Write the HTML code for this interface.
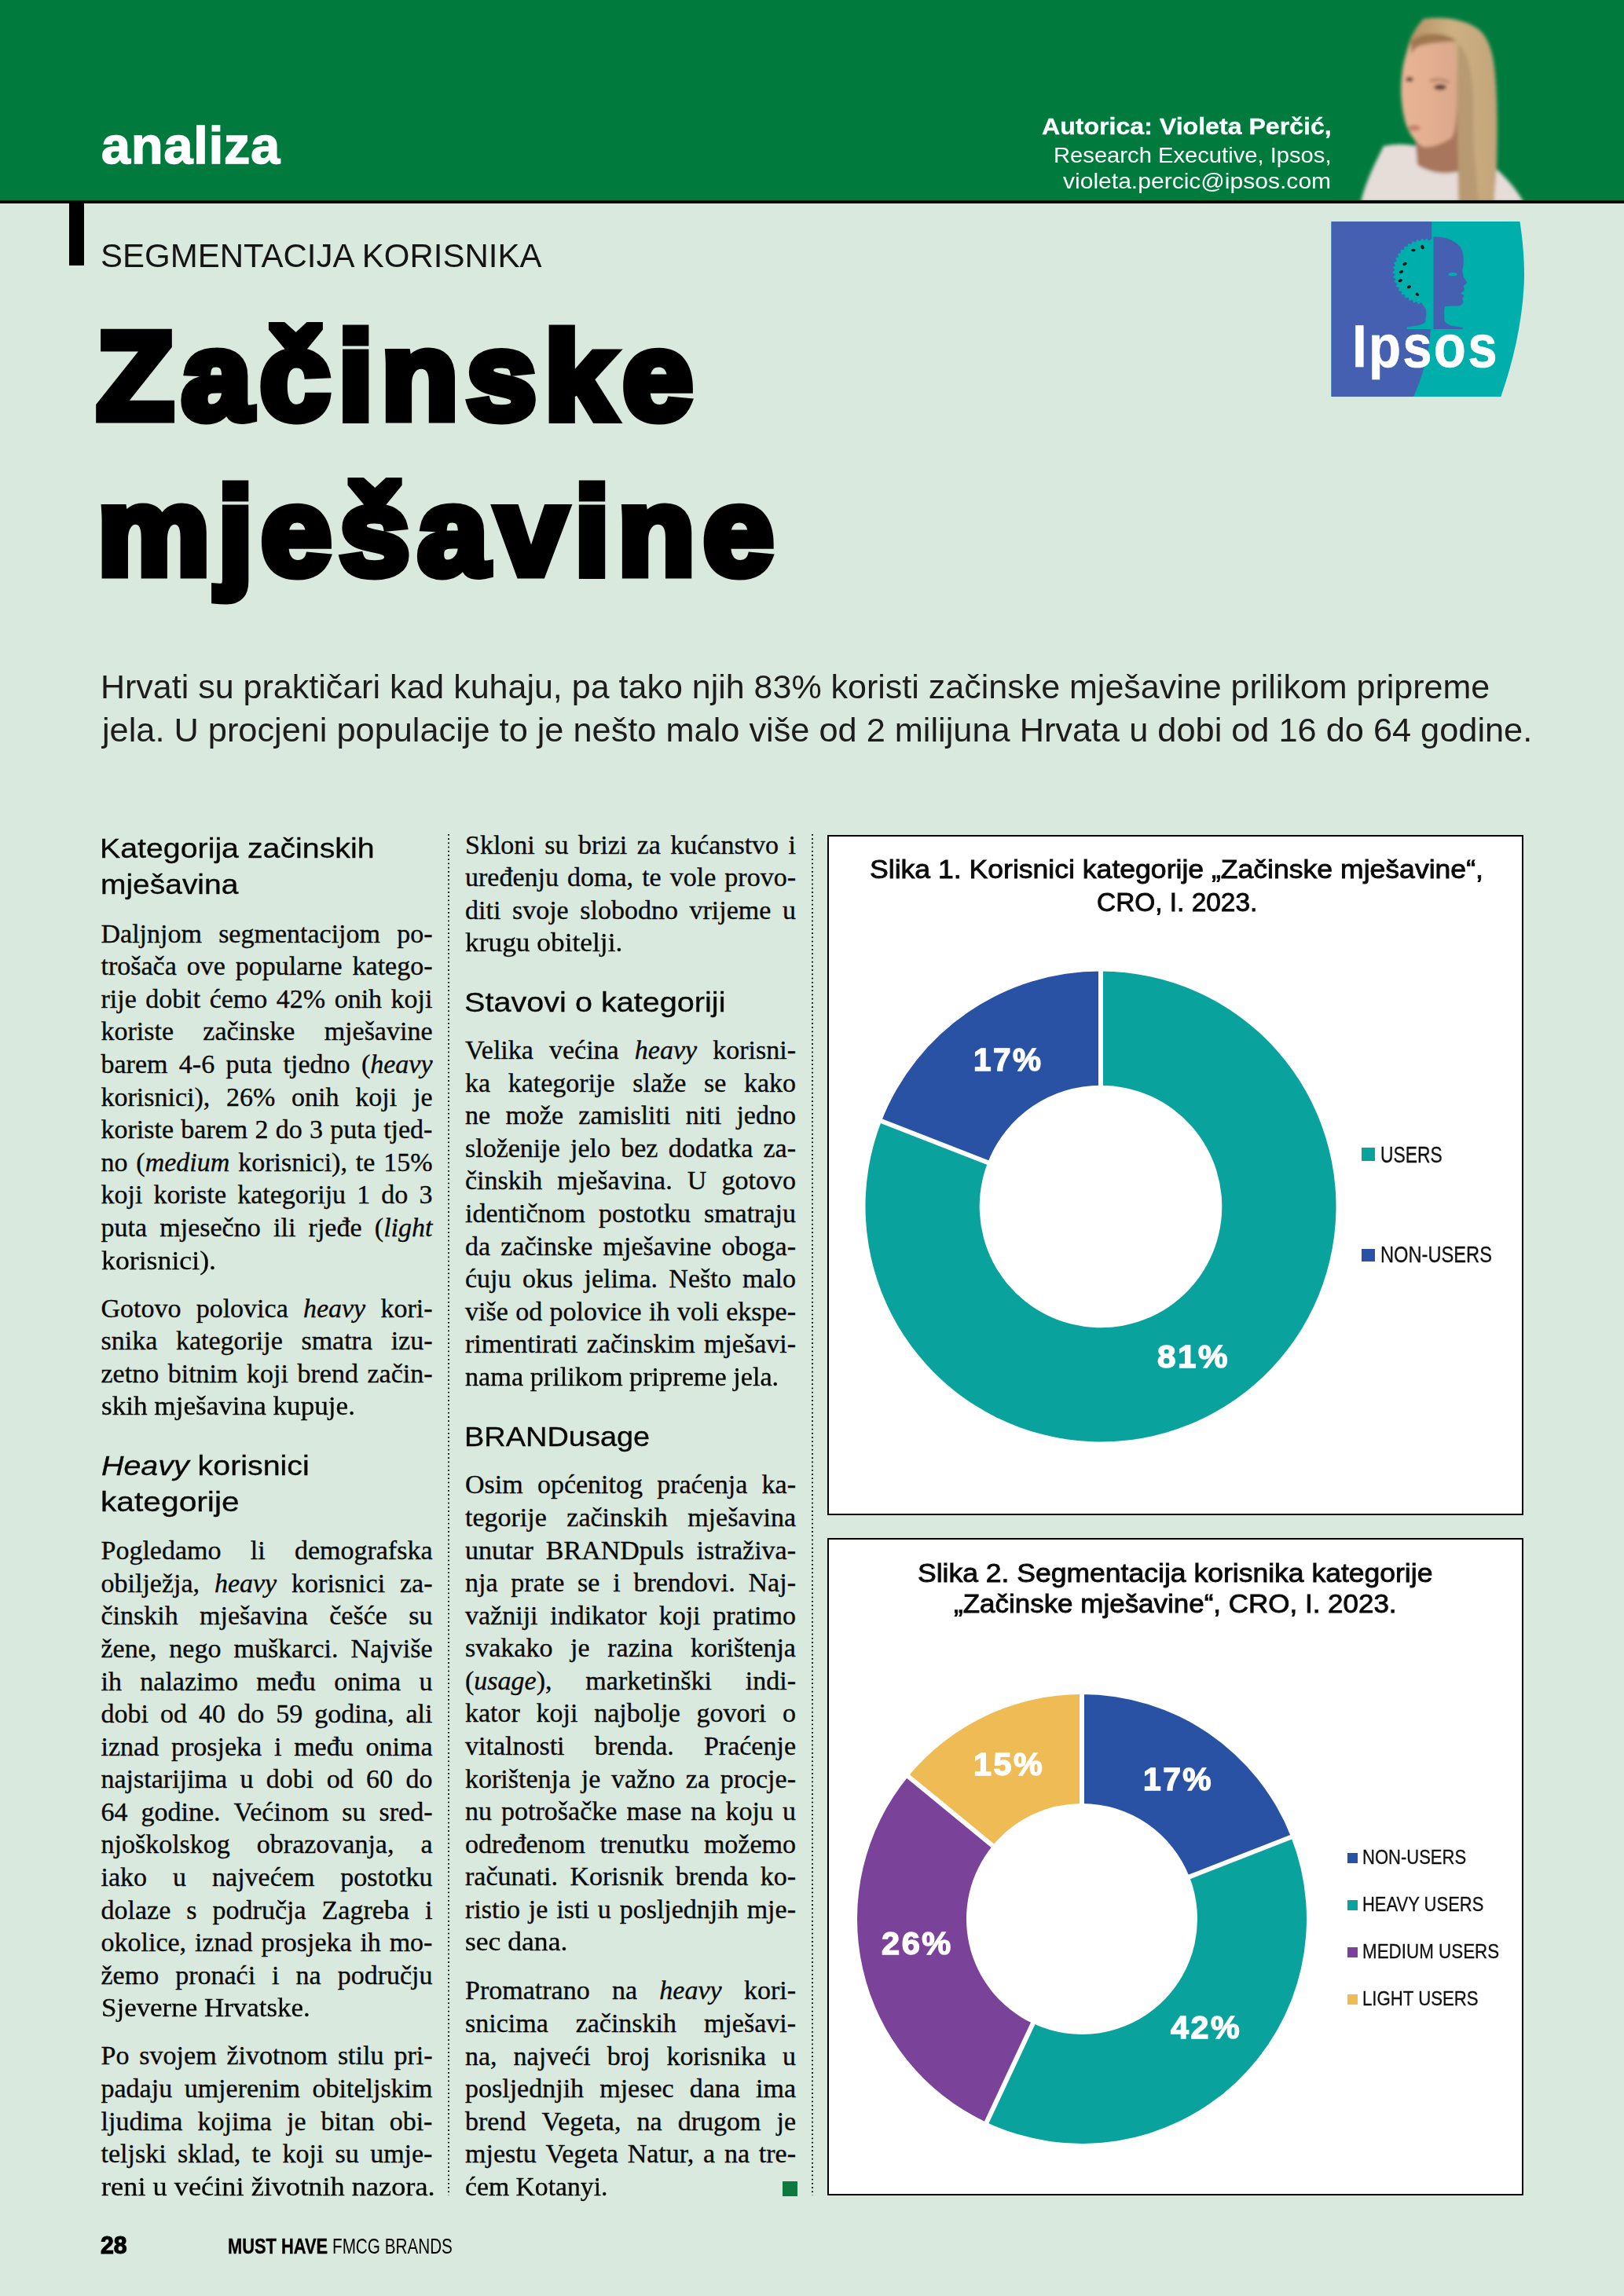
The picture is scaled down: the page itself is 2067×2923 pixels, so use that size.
<!DOCTYPE html>
<html><head><meta charset="utf-8"><title>Začinske mješavine</title>
<style>
html,body{margin:0;padding:0}
body{width:2067px;height:2923px;overflow:hidden;position:relative;background:#dae9de;font-family:"Liberation Sans",sans-serif;color:#000}
.abs{position:absolute}
.t{position:absolute;white-space:nowrap;transform-origin:0 0}
.bt{font-family:"Liberation Serif",serif;font-size:34.0px;line-height:34.0px;color:#0a0a0a;-webkit-text-stroke-width:0.35px}
.jl{display:flex;justify-content:space-between}
.dots{position:absolute;width:2px;background-image:radial-gradient(circle at 1px 1px,#111 0.95px,transparent 1.2px);background-size:2px 5.22px;background-repeat:repeat-y}
.box{position:absolute;background:#fff;border:2px solid #000;box-sizing:border-box}
</style></head><body>
<div class="abs" style="left:0;top:0;width:2067px;height:255px;background:#017b3d"></div>
<svg class="abs" style="left:1720px;top:10px" width="230" height="245" viewBox="0 0 230 245">
<defs><filter id="bl" x="-20%" y="-20%" width="140%" height="140%"><feGaussianBlur stdDeviation="2"/></filter>
<linearGradient id="hg" x1="0" y1="0" x2="1" y2="0"><stop offset="0" stop-color="#b48f62"/><stop offset="0.5" stop-color="#cdb083"/><stop offset="1" stop-color="#c3a57a"/></linearGradient>
<linearGradient id="fg" x1="0" y1="0" x2="1" y2="0"><stop offset="0" stop-color="#e9b595"/><stop offset="1" stop-color="#dca88c"/></linearGradient></defs>
<g filter="url(#bl)">
<path d="M12,247 C18,222 28,202 41,176 C60,172 75,174 88,177 L130,180 C150,190 168,196 177,198 C195,214 210,230 219,247 Z" fill="#e6dcd8"/>
<path d="M92,14 C120,10 150,16 165,30 C176,42 181,60 183,85 C186,120 186,160 185,200 C184,220 182,235 182,247 L136,247 C135,200 134,120 133,80 C120,60 100,50 80,56 C74,62 71,70 69,85 C67,60 72,35 92,14 Z" fill="url(#hg)"/>
<path d="M80,150 C95,165 118,160 138,110 L138,208 C118,213 100,210 84,200 Z" fill="#a8765c"/>
<path d="M79,41 C90,36 112,34 128,41 C134,60 136,90 134,125 C133,145 132,158 128,165 C118,172 104,178 92,177 C82,172 76,164 70,150 C64,130 62,110 64,88 C66,68 70,52 79,41 Z" fill="url(#fg)"/>
<path d="M76,42 C90,30 118,30 134,42 C120,44 100,44 88,48 C82,50 78,54 76,60 Z" fill="#a07850"/>
<ellipse cx="74" cy="91" rx="5" ry="3" fill="#5a3828"/>
<ellipse cx="113" cy="101" rx="8" ry="3.5" fill="#553526"/>
<path d="M100,93 C108,90 118,91 124,95" stroke="#8a5a40" stroke-width="2" fill="none"/>
<ellipse cx="80" cy="153" rx="8" ry="3.5" fill="#c77a6c"/>
<path d="M136,45 C150,60 155,90 155,120 C155,170 158,210 162,247 L137,247 C136,200 134,130 134,100 Z" fill="#b89a72"/>
</g>
</svg>
<div class="abs" style="left:0;top:255px;width:2067px;height:4px;background:#050505"></div>
<div class="abs" style="left:88px;top:258px;width:19px;height:80px;background:#000"></div>
<svg class="abs" style="left:1694px;top:281px" width="250" height="226" viewBox="0 0 250 226">
<path d="M0.5,1 L240.4,1 C245,30 247,60 245.5,85 C243,130 232,180 216.3,224 L0.5,224 Z" fill="#00afab"/>
<path d="M0.5,1 L128.2,1 C128.3,60 128.2,110 127.3,134 C125,170 116,200 105,224 L0.5,224 Z" fill="#4560b0"/>
<path d="M131.5,22.5 L130.6,26.7 L128.3,22.9 L124.9,25.7 L122.0,22.3 L119.1,25.5 L115.8,22.6 L113.3,26.3 L109.7,23.8 L107.7,27.8 L103.8,25.9 L102.5,30.1 L98.2,28.9 L97.6,33.2 L93.2,32.6 L93.2,37.0 L88.8,37.0 L89.4,41.3 L85.0,42.0 L86.3,46.2 L82.1,47.5 L83.9,51.5 L79.9,53.4 L82.3,57.1 L78.7,59.5 L81.6,62.8 L78.3,65.7 L81.7,68.6 L78.9,72.0 L82.6,74.3 L80.3,78.1 L84.4,79.8 L82.7,83.9 L86.9,85.0 L85.9,89.2 L90.2,89.8 L89.8,94.1 L94.2,94.0 L94.4,98.4 L98.7,97.6 L99.5,101.9 L103.7,100.5 L105.1,104.6 L109.1,102.7 L111.1,106.5 L114.7,104.0 L120.5,112.2 C121.5,115 121.5,120 120,129 C118,132 112,133.5 96.7,135.6 L96.7,138 L131.5,138 Z" fill="#00afab"/>
<path d="M130.5,20.5 C134,20.5 136,20.6 138.8,20.8 C144,21.5 148,22.5 152.3,24.2 C156,26 159.5,28 162.5,30.9 C165.5,34 167,37 167.9,41.1 C168.8,46 169,50 168.6,54.7 C168.4,58 168,60.5 167.2,62.8 L168.6,71.6 C170.5,74.5 172,76.5 173.3,79 L168.6,83.1 C169.5,85 170,86.5 169.9,88.5 L165.2,92.6 L169.2,95.3 L167.2,99.4 C168,101 168.6,102.5 168.6,104.1 C167,106 166,107.5 164.5,108.2 C157,108.6 150,108.5 145.5,108.9 C144.3,111 144.2,113 144.2,115.6 L144.2,125.8 C145,129.5 148,132 152.3,133.2 C158,134.5 163,135.3 167.9,136 L167.9,138 L130.5,138 Z" fill="#4560b0"/>
<ellipse cx="155" cy="68.2" rx="5.4" ry="2.1" fill="#00afab"/>
<g fill="#111">
<ellipse cx="116.5" cy="33.6" rx="2" ry="2.8" transform="rotate(-20 116.5 33.6)"/>
<ellipse cx="104.9" cy="37.5" rx="2.8" ry="1.8"/>
<ellipse cx="94" cy="55" rx="2.8" ry="1.8" transform="rotate(-25 94 55)"/>
<ellipse cx="89.4" cy="65.1" rx="2.8" ry="1.8" transform="rotate(-25 89.4 65.1)"/>
<ellipse cx="88.2" cy="76.3" rx="2.8" ry="1.8" transform="rotate(-20 88.2 76.3)"/>
<ellipse cx="99.4" cy="84.3" rx="2.8" ry="1.8" transform="rotate(-20 99.4 84.3)"/>
<ellipse cx="109.9" cy="93.7" rx="2.4" ry="1.8" transform="rotate(30 109.9 93.7)"/>
</g>
</svg>
<div class="box" style="left:1053px;top:1062.5px;width:886px;height:866px"></div>
<div class="box" style="left:1053px;top:1958.4px;width:886px;height:836.4px"></div>
<svg class="abs" width="2067" height="2923" viewBox="0 0 2067 2923" style="left:0;top:0"><path d="M1401.00,1236.50 A299.5,299.5 0 1 1 1121.96,1427.21 L1257.24,1479.95 A154.3,154.3 0 1 0 1401.00,1381.70 Z" fill="#0aa29d"/><path d="M1121.96,1427.21 A299.5,299.5 0 0 1 1401.00,1236.50 L1401.00,1381.70 A154.3,154.3 0 0 0 1257.24,1479.95 Z" fill="#2a52a4"/><line x1="1401.00" y1="1383.70" x2="1401.00" y2="1234.50" stroke="#fff" stroke-width="6"/><line x1="1259.10" y1="1480.68" x2="1120.10" y2="1426.48" stroke="#fff" stroke-width="6"/><path d="M1377.00,2157.00 A286,286 0 0 1 1643.28,2338.65 L1513.87,2389.36 A147,147 0 0 0 1377.00,2296.00 Z" fill="#2a52a4"/><path d="M1643.28,2338.65 A286,286 0 0 1 1255.68,2701.99 L1314.64,2576.12 A147,147 0 0 0 1513.87,2389.36 Z" fill="#0aa29d"/><path d="M1255.68,2701.99 A286,286 0 0 1 1156.00,2261.47 L1263.41,2349.69 A147,147 0 0 0 1314.64,2576.12 Z" fill="#7a4399"/><path d="M1156.00,2261.47 A286,286 0 0 1 1377.00,2157.00 L1377.00,2296.00 A147,147 0 0 0 1263.41,2349.69 Z" fill="#efbb54"/><line x1="1377.00" y1="2298.00" x2="1377.00" y2="2155.00" stroke="#fff" stroke-width="6"/><line x1="1512.00" y1="2390.09" x2="1645.14" y2="2337.92" stroke="#fff" stroke-width="6"/><line x1="1315.49" y1="2574.31" x2="1254.83" y2="2703.80" stroke="#fff" stroke-width="6"/><line x1="1264.95" y1="2350.96" x2="1154.45" y2="2260.20" stroke="#fff" stroke-width="6"/></svg>
<div class="abs" style="left:1733px;top:1461.2px;width:17.0px;height:16.8px;background:#0aa29d"></div><div class="abs" style="left:1733px;top:1589.6px;width:17.0px;height:16.7px;background:#2a52a4"></div><div class="abs" style="left:1714.6px;top:2359px;width:13.4px;height:13.0px;background:#2a52a4"></div><div class="abs" style="left:1714.6px;top:2418.8px;width:13.4px;height:13.0px;background:#0aa29d"></div><div class="abs" style="left:1714.6px;top:2479.2px;width:13.4px;height:13.0px;background:#7a4399"></div><div class="abs" style="left:1714.6px;top:2539.2px;width:13.4px;height:13.0px;background:#efbb54"></div>
<div class="dots" style="left:570px;top:1062.4px;height:1733.1px"></div><div class="dots" style="left:1033.2px;top:1062.4px;height:1733.1px"></div>
<div class="t bt jl" style="left:128.5px;top:1171.78px;width:422px"><span>Daljnjom</span><span>segmentacijom</span><span>po-</span></div>
<div class="t bt jl" style="left:128.5px;top:1213.35px;width:422px"><span>trošača</span><span>ove</span><span>popularne</span><span>katego-</span></div>
<div class="t bt jl" style="left:128.5px;top:1254.92px;width:422px"><span>rije</span><span>dobit</span><span>ćemo</span><span>42%</span><span>onih</span><span>koji</span></div>
<div class="t bt jl" style="left:128.5px;top:1296.49px;width:422px"><span>koriste</span><span>začinske</span><span>mješavine</span></div>
<div class="t bt jl" style="left:128.5px;top:1338.06px;width:422px"><span>barem</span><span>4-6</span><span>puta</span><span>tjedno</span><span>(<i>heavy</i></span></div>
<div class="t bt jl" style="left:128.5px;top:1379.63px;width:422px"><span>korisnici),</span><span>26%</span><span>onih</span><span>koji</span><span>je</span></div>
<div class="t bt jl" style="left:128.5px;top:1421.20px;width:422px"><span>koriste</span><span>barem</span><span>2</span><span>do</span><span>3</span><span>puta</span><span>tjed-</span></div>
<div class="t bt jl" style="left:128.5px;top:1462.77px;width:422px"><span>no</span><span>(<i>medium</i></span><span>korisnici),</span><span>te</span><span>15%</span></div>
<div class="t bt jl" style="left:128.5px;top:1504.34px;width:422px"><span>koji</span><span>koriste</span><span>kategoriju</span><span>1</span><span>do</span><span>3</span></div>
<div class="t bt jl" style="left:128.5px;top:1545.91px;width:422px"><span>puta</span><span>mjesečno</span><span>ili</span><span>rjeđe</span><span>(<i>light</i></span></div>
<div class="t bt jl" style="left:128.5px;top:1648.58px;width:422px"><span>Gotovo</span><span>polovica</span><span><i>heavy</i></span><span>kori-</span></div>
<div class="t bt jl" style="left:128.5px;top:1690.15px;width:422px"><span>snika</span><span>kategorije</span><span>smatra</span><span>izu-</span></div>
<div class="t bt jl" style="left:128.5px;top:1731.72px;width:422px"><span>zetno</span><span>bitnim</span><span>koji</span><span>brend</span><span>začin-</span></div>
<div class="t bt jl" style="left:128.5px;top:1957.28px;width:422px"><span>Pogledamo</span><span>li</span><span>demografska</span></div>
<div class="t bt jl" style="left:128.5px;top:1998.85px;width:422px"><span>obilježja,</span><span><i>heavy</i></span><span>korisnici</span><span>za-</span></div>
<div class="t bt jl" style="left:128.5px;top:2040.42px;width:422px"><span>činskih</span><span>mješavina</span><span>češće</span><span>su</span></div>
<div class="t bt jl" style="left:128.5px;top:2081.99px;width:422px"><span>žene,</span><span>nego</span><span>muškarci.</span><span>Najviše</span></div>
<div class="t bt jl" style="left:128.5px;top:2123.56px;width:422px"><span>ih</span><span>nalazimo</span><span>među</span><span>onima</span><span>u</span></div>
<div class="t bt jl" style="left:128.5px;top:2165.13px;width:422px"><span>dobi</span><span>od</span><span>40</span><span>do</span><span>59</span><span>godina,</span><span>ali</span></div>
<div class="t bt jl" style="left:128.5px;top:2206.70px;width:422px"><span>iznad</span><span>prosjeka</span><span>i</span><span>među</span><span>onima</span></div>
<div class="t bt jl" style="left:128.5px;top:2248.27px;width:422px"><span>najstarijima</span><span>u</span><span>dobi</span><span>od</span><span>60</span><span>do</span></div>
<div class="t bt jl" style="left:128.5px;top:2289.84px;width:422px"><span>64</span><span>godine.</span><span>Većinom</span><span>su</span><span>sred-</span></div>
<div class="t bt jl" style="left:128.5px;top:2331.41px;width:422px"><span>njoškolskog</span><span>obrazovanja,</span><span>a</span></div>
<div class="t bt jl" style="left:128.5px;top:2372.98px;width:422px"><span>iako</span><span>u</span><span>najvećem</span><span>postotku</span></div>
<div class="t bt jl" style="left:128.5px;top:2414.55px;width:422px"><span>dolaze</span><span>s</span><span>područja</span><span>Zagreba</span><span>i</span></div>
<div class="t bt jl" style="left:128.5px;top:2456.12px;width:422px"><span>okolice,</span><span>iznad</span><span>prosjeka</span><span>ih</span><span>mo-</span></div>
<div class="t bt jl" style="left:128.5px;top:2497.69px;width:422px"><span>žemo</span><span>pronaći</span><span>i</span><span>na</span><span>području</span></div>
<div class="t bt jl" style="left:128.5px;top:2600.48px;width:422px"><span>Po</span><span>svojem</span><span>životnom</span><span>stilu</span><span>pri-</span></div>
<div class="t bt jl" style="left:128.5px;top:2642.05px;width:422px"><span>padaju</span><span>umjerenim</span><span>obiteljskim</span></div>
<div class="t bt jl" style="left:128.5px;top:2683.62px;width:422px"><span>ljudima</span><span>kojima</span><span>je</span><span>bitan</span><span>obi-</span></div>
<div class="t bt jl" style="left:128.5px;top:2725.19px;width:422px"><span>teljski</span><span>sklad,</span><span>te</span><span>koji</span><span>su</span><span>umje-</span></div>
<div class="t bt jl" style="left:592px;top:1058.58px;width:421px"><span>Skloni</span><span>su</span><span>brizi</span><span>za</span><span>kućanstvo</span><span>i</span></div>
<div class="t bt jl" style="left:592px;top:1100.15px;width:421px"><span>uređenju</span><span>doma,</span><span>te</span><span>vole</span><span>provo-</span></div>
<div class="t bt jl" style="left:592px;top:1141.72px;width:421px"><span>diti</span><span>svoje</span><span>slobodno</span><span>vrijeme</span><span>u</span></div>
<div class="t bt jl" style="left:592px;top:1320.08px;width:421px"><span>Velika</span><span>većina</span><span><i>heavy</i></span><span>korisni-</span></div>
<div class="t bt jl" style="left:592px;top:1361.65px;width:421px"><span>ka</span><span>kategorije</span><span>slaže</span><span>se</span><span>kako</span></div>
<div class="t bt jl" style="left:592px;top:1403.22px;width:421px"><span>ne</span><span>može</span><span>zamisliti</span><span>niti</span><span>jedno</span></div>
<div class="t bt jl" style="left:592px;top:1444.79px;width:421px"><span>složenije</span><span>jelo</span><span>bez</span><span>dodatka</span><span>za-</span></div>
<div class="t bt jl" style="left:592px;top:1486.36px;width:421px"><span>činskih</span><span>mješavina.</span><span>U</span><span>gotovo</span></div>
<div class="t bt jl" style="left:592px;top:1527.93px;width:421px"><span>identičnom</span><span>postotku</span><span>smatraju</span></div>
<div class="t bt jl" style="left:592px;top:1569.50px;width:421px"><span>da</span><span>začinske</span><span>mješavine</span><span>oboga-</span></div>
<div class="t bt jl" style="left:592px;top:1611.07px;width:421px"><span>ćuju</span><span>okus</span><span>jelima.</span><span>Nešto</span><span>malo</span></div>
<div class="t bt jl" style="left:592px;top:1652.64px;width:421px"><span>više</span><span>od</span><span>polovice</span><span>ih</span><span>voli</span><span>ekspe-</span></div>
<div class="t bt jl" style="left:592px;top:1694.21px;width:421px"><span>rimentirati</span><span>začinskim</span><span>mješavi-</span></div>
<div class="t bt jl" style="left:592px;top:1873.38px;width:421px"><span>Osim</span><span>općenitog</span><span>praćenja</span><span>ka-</span></div>
<div class="t bt jl" style="left:592px;top:1914.95px;width:421px"><span>tegorije</span><span>začinskih</span><span>mješavina</span></div>
<div class="t bt jl" style="left:592px;top:1956.52px;width:421px"><span>unutar</span><span>BRANDpuls</span><span>istraživa-</span></div>
<div class="t bt jl" style="left:592px;top:1998.09px;width:421px"><span>nja</span><span>prate</span><span>se</span><span>i</span><span>brendovi.</span><span>Naj-</span></div>
<div class="t bt jl" style="left:592px;top:2039.66px;width:421px"><span>važniji</span><span>indikator</span><span>koji</span><span>pratimo</span></div>
<div class="t bt jl" style="left:592px;top:2081.23px;width:421px"><span>svakako</span><span>je</span><span>razina</span><span>korištenja</span></div>
<div class="t bt jl" style="left:592px;top:2122.80px;width:421px"><span>(<i>usage</i>),</span><span>marketinški</span><span>indi-</span></div>
<div class="t bt jl" style="left:592px;top:2164.37px;width:421px"><span>kator</span><span>koji</span><span>najbolje</span><span>govori</span><span>o</span></div>
<div class="t bt jl" style="left:592px;top:2205.94px;width:421px"><span>vitalnosti</span><span>brenda.</span><span>Praćenje</span></div>
<div class="t bt jl" style="left:592px;top:2247.51px;width:421px"><span>korištenja</span><span>je</span><span>važno</span><span>za</span><span>procje-</span></div>
<div class="t bt jl" style="left:592px;top:2289.08px;width:421px"><span>nu</span><span>potrošačke</span><span>mase</span><span>na</span><span>koju</span><span>u</span></div>
<div class="t bt jl" style="left:592px;top:2330.65px;width:421px"><span>određenom</span><span>trenutku</span><span>možemo</span></div>
<div class="t bt jl" style="left:592px;top:2372.22px;width:421px"><span>računati.</span><span>Korisnik</span><span>brenda</span><span>ko-</span></div>
<div class="t bt jl" style="left:592px;top:2413.79px;width:421px"><span>ristio</span><span>je</span><span>isti</span><span>u</span><span>posljednjih</span><span>mje-</span></div>
<div class="t bt jl" style="left:592px;top:2517.38px;width:421px"><span>Promatrano</span><span>na</span><span><i>heavy</i></span><span>kori-</span></div>
<div class="t bt jl" style="left:592px;top:2558.95px;width:421px"><span>snicima</span><span>začinskih</span><span>mješavi-</span></div>
<div class="t bt jl" style="left:592px;top:2600.52px;width:421px"><span>na,</span><span>najveći</span><span>broj</span><span>korisnika</span><span>u</span></div>
<div class="t bt jl" style="left:592px;top:2642.09px;width:421px"><span>posljednjih</span><span>mjesec</span><span>dana</span><span>ima</span></div>
<div class="t bt jl" style="left:592px;top:2683.66px;width:421px"><span>brend</span><span>Vegeta,</span><span>na</span><span>drugom</span><span>je</span></div>
<div class="t bt jl" style="left:592px;top:2725.23px;width:421px"><span>mjestu</span><span>Vegeta</span><span>Natur,</span><span>a</span><span>na</span><span>tre-</span></div>
<div class="t bt" style="left:128.5px;top:1587.5px;transform:scaleX(1.0518)">korisnici).</div>
<div class="t bt" style="left:128.5px;top:1773.3px;transform:scaleX(1.0332)">skih mješavina kupuje.</div>
<div class="t bt" style="left:128.5px;top:2539.3px;transform:scaleX(1.0276)">Sjeverne Hrvatske.</div>
<div class="t bt" style="left:128.5px;top:2766.8px;transform:scaleX(1.0684)">reni u većini životnih nazora.</div>
<div class="t bt" style="left:592px;top:1183.3px;transform:scaleX(1.0398)">krugu obitelji.</div>
<div class="t bt" style="left:592px;top:1735.8px;transform:scaleX(1.0066)">nama prilikom pripreme jela.</div>
<div class="t bt" style="left:592px;top:2455.4px;transform:scaleX(1.0459)">sec dana.</div>
<div class="t bt" style="left:592px;top:2766.8px;transform:scaleX(0.9906)">ćem Kotanyi.</div>
<div class="t" style="left:129.01px;top:151.25px;font-family:'Liberation Sans',sans-serif;font-size:67px;line-height:67px;font-weight:bold;-webkit-text-stroke-width:1.6px;letter-spacing:1px;color:#fff;transform:scaleX(0.9900);">analiza</div>
<div class="t" style="left:1325.93px;top:145.90px;font-family:'Liberation Sans',sans-serif;font-size:30px;line-height:30px;font-weight:bold;-webkit-text-stroke-width:0.3px;color:#fff;transform:scaleX(1.0702);">Autorica: Violeta Perčić,</div>
<div class="t" style="left:1340.65px;top:182.78px;font-family:'Liberation Sans',sans-serif;font-size:28.5px;line-height:28.5px;color:#fff;transform:scaleX(1.0238);">Research Executive, Ipsos,</div>
<div class="t" style="left:1353.00px;top:216.47px;font-family:'Liberation Sans',sans-serif;font-size:28.5px;line-height:28.5px;color:#fff;transform:scaleX(1.0543);">violeta.percic@ipsos.com</div>
<div class="t" style="left:128.05px;top:304.15px;font-family:'Liberation Sans',sans-serif;font-size:43px;line-height:43px;color:#151515;transform:scaleX(0.9764);">SEGMENTACIJA KORISNIKA</div>
<div class="t" style="left:123.02px;top:400.00px;font-family:'Liberation Sans',sans-serif;font-size:157px;line-height:157px;font-weight:bold;-webkit-text-stroke-width:11px;letter-spacing:10px;color:#000;transform:scaleX(1.0228);">Začinske</div>
<div class="t" style="left:123.90px;top:598.05px;font-family:'Liberation Sans',sans-serif;font-size:157px;line-height:157px;font-weight:bold;-webkit-text-stroke-width:11px;letter-spacing:10px;color:#000;transform:scaleX(1.0251);">mješavine</div>
<div class="t" style="left:127.97px;top:854.17px;font-family:'Liberation Sans',sans-serif;font-size:42.5px;line-height:42.5px;color:#1c1c1c;transform:scaleX(1.0116);">Hrvati su praktičari kad kuhaju, pa tako njih 83% koristi začinske mješavine prilikom pripreme</div>
<div class="t" style="left:130.02px;top:908.88px;font-family:'Liberation Sans',sans-serif;font-size:42.5px;line-height:42.5px;color:#1c1c1c;transform:scaleX(1.0191);">jela. U procjeni populacije to je nešto malo više od 2 milijuna Hrvata u dobi od 16 do 64 godine.</div>
<div class="t" style="left:1106.65px;top:1088.90px;font-family:'Liberation Sans',sans-serif;font-size:34px;line-height:34px;-webkit-text-stroke-width:0.9px;color:#0c0c0c;transform:scaleX(1.0462);">Slika 1. Korisnici kategorije „Začinske mješavine“,</div>
<div class="t" style="left:1395.72px;top:1130.60px;font-family:'Liberation Sans',sans-serif;font-size:34px;line-height:34px;-webkit-text-stroke-width:0.9px;color:#0c0c0c;transform:scaleX(0.9828);">CRO, I. 2023.</div>
<div class="t" style="left:1168.36px;top:1984.70px;font-family:'Liberation Sans',sans-serif;font-size:34px;line-height:34px;-webkit-text-stroke-width:0.9px;color:#0c0c0c;transform:scaleX(1.0446);">Slika 2. Segmentacija korisnika kategorije</div>
<div class="t" style="left:1214.47px;top:2024.40px;font-family:'Liberation Sans',sans-serif;font-size:34px;line-height:34px;-webkit-text-stroke-width:0.9px;color:#0c0c0c;transform:scaleX(1.0285);">„Začinske mješavine“, CRO, I. 2023.</div>
<div class="t" style="left:1239.02px;top:1329.15px;font-family:'Liberation Sans',sans-serif;font-size:41px;line-height:41px;font-weight:bold;-webkit-text-stroke-width:1.4px;letter-spacing:2.5px;color:#fff;transform:scaleX(0.9882);">17%</div>
<div class="t" style="left:1473.47px;top:1706.85px;font-family:'Liberation Sans',sans-serif;font-size:41px;line-height:41px;font-weight:bold;-webkit-text-stroke-width:1.4px;letter-spacing:2.5px;color:#fff;transform:scaleX(1.0291);">81%</div>
<div class="t" style="left:1454.71px;top:2245.15px;font-family:'Liberation Sans',sans-serif;font-size:41px;line-height:41px;font-weight:bold;-webkit-text-stroke-width:1.4px;letter-spacing:2.5px;color:#fff;transform:scaleX(0.9953);">17%</div>
<div class="t" style="left:1238.98px;top:2225.55px;font-family:'Liberation Sans',sans-serif;font-size:41px;line-height:41px;font-weight:bold;-webkit-text-stroke-width:1.4px;letter-spacing:2.5px;color:#fff;transform:scaleX(1.0082);">15%</div>
<div class="t" style="left:1121.79px;top:2453.75px;font-family:'Liberation Sans',sans-serif;font-size:41px;line-height:41px;font-weight:bold;-webkit-text-stroke-width:1.4px;letter-spacing:2.5px;color:#fff;transform:scaleX(1.0140);">26%</div>
<div class="t" style="left:1490.40px;top:2561.15px;font-family:'Liberation Sans',sans-serif;font-size:41px;line-height:41px;font-weight:bold;-webkit-text-stroke-width:1.4px;letter-spacing:2.5px;color:#fff;transform:scaleX(1.0069);">42%</div>
<div class="t" style="left:1757.20px;top:1455.69px;font-family:'Liberation Sans',sans-serif;font-size:28.6px;line-height:28.6px;-webkit-text-stroke-width:0.3px;color:#111;transform:scaleX(0.7990);">USERS</div>
<div class="t" style="left:1757.15px;top:1583.19px;font-family:'Liberation Sans',sans-serif;font-size:28.6px;line-height:28.6px;-webkit-text-stroke-width:0.3px;color:#111;transform:scaleX(0.8272);">NON-USERS</div>
<div class="t" style="left:1733.84px;top:2350.59px;font-family:'Liberation Sans',sans-serif;font-size:26.6px;line-height:26.6px;-webkit-text-stroke-width:0.3px;color:#111;transform:scaleX(0.8280);">NON-USERS</div>
<div class="t" style="left:1733.85px;top:2410.59px;font-family:'Liberation Sans',sans-serif;font-size:26.6px;line-height:26.6px;-webkit-text-stroke-width:0.3px;color:#111;transform:scaleX(0.8266);">HEAVY USERS</div>
<div class="t" style="left:1733.82px;top:2471.19px;font-family:'Liberation Sans',sans-serif;font-size:26.6px;line-height:26.6px;-webkit-text-stroke-width:0.3px;color:#111;transform:scaleX(0.8422);">MEDIUM USERS</div>
<div class="t" style="left:1733.83px;top:2531.19px;font-family:'Liberation Sans',sans-serif;font-size:26.6px;line-height:26.6px;-webkit-text-stroke-width:0.3px;color:#111;transform:scaleX(0.8351);">LIGHT USERS</div>
<div class="t" style="left:126.63px;top:1061.95px;font-family:'Liberation Sans',sans-serif;font-size:35px;line-height:35px;-webkit-text-stroke-width:0.35px;color:#0a0a0a;transform:scaleX(1.1229);">Kategorija začinskih</div>
<div class="t" style="left:127.77px;top:1107.75px;font-family:'Liberation Sans',sans-serif;font-size:35px;line-height:35px;-webkit-text-stroke-width:0.35px;color:#0a0a0a;transform:scaleX(1.1128);">mješavina</div>
<div class="t" style="left:128.88px;top:1847.85px;font-family:'Liberation Sans',sans-serif;font-size:35px;line-height:35px;-webkit-text-stroke-width:0.35px;color:#0a0a0a;transform:scaleX(1.1250);"><i>Heavy</i> korisnici</div>
<div class="t" style="left:127.67px;top:1893.75px;font-family:'Liberation Sans',sans-serif;font-size:35px;line-height:35px;-webkit-text-stroke-width:0.35px;color:#0a0a0a;transform:scaleX(1.1638);">kategorije</div>
<div class="t" style="left:590.74px;top:1257.75px;font-family:'Liberation Sans',sans-serif;font-size:35px;line-height:35px;-webkit-text-stroke-width:0.35px;color:#0a0a0a;transform:scaleX(1.1317);">Stavovi o kategoriji</div>
<div class="t" style="left:590.75px;top:1810.95px;font-family:'Liberation Sans',sans-serif;font-size:35px;line-height:35px;-webkit-text-stroke-width:0.35px;color:#0a0a0a;transform:scaleX(1.0841);">BRANDusage</div>
<div class="t" style="left:128.30px;top:2842.65px;font-family:'Liberation Sans',sans-serif;font-size:31px;line-height:31px;font-weight:bold;-webkit-text-stroke-width:1.2px;color:#000;transform:scaleX(0.9735);">28</div>
<div class="t" style="left:289.82px;top:2845.54px;font-family:'Liberation Sans',sans-serif;font-size:27.6px;line-height:27.6px;font-weight:bold;-webkit-text-stroke-width:0.4px;color:#000;transform:scaleX(0.7918);">MUST HAVE</div>
<div class="t" style="left:423.00px;top:2845.54px;font-family:'Liberation Sans',sans-serif;font-size:27.6px;line-height:27.6px;color:#000;transform:scaleX(0.7498);">FMCG BRANDS</div>
<div class="t" style="left:1721.27px;top:403.20px;font-family:'Liberation Sans',sans-serif;font-size:76px;line-height:76px;font-weight:bold;-webkit-text-stroke-width:0.6px;letter-spacing:2.5px;color:#fff;transform:scaleX(0.8851);">Ipsos</div>
<div class="abs" style="left:996px;top:2777px;width:18.5px;height:18.5px;background:#0c7a3e"></div>
</body></html>
